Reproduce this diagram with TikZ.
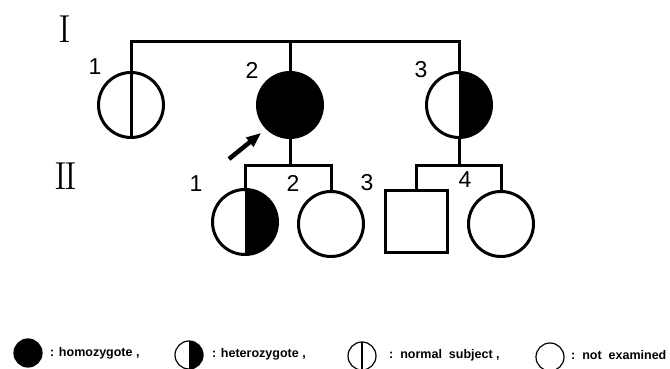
\documentclass[tikz,border=0pt]{standalone}
\usepackage{fontspec}
\usepackage{tikz}
\usetikzlibrary{arrows.meta, positioning, calc}
\newfontfamily\sansfont{Liberation Sans}
\newcommand\numfont{\sansfont\fontsize{23}{23}\selectfont}
\newcommand\keyfont{\sansfont\bfseries\fontsize{12.5}{12.5}\selectfont}
\newcommand\genfont{\fontsize{39}{39}\selectfont}
\tikzset{
  person/.style={circle, draw=black, line width=3pt, minimum size=65pt, inner sep=0pt},
  male/.style={rectangle, draw=black, line width=3pt, minimum size=62pt, inner sep=0pt},
  homo/.style={person, fill=black},
  halffill/.style={path picture={\fill[black] (path picture bounding box.north) rectangle (path picture bounding box.south east);}},
  midline/.style={path picture={\draw[line width=1.2pt] (path picture bounding box.north) -- (path picture bounding box.south);}},
  link/.style={line width=3pt},
  proband/.style={-{Triangle[length=15pt,width=11pt]}, line width=4.5pt},
  num/.style={font=\numfont, inner sep=0pt},
  gen/.style={font=\genfont, inner sep=0pt},
  key/.style={circle, draw=black, line width=1.2pt, minimum size=28pt, inner sep=0pt},
  keytext/.style={font=\keyfont, inner sep=0pt, anchor=base west},
}

\begin{document}
\begin{tikzpicture}[x=1pt, y=1pt]
\useasboundingbox (0,0) rectangle (670,369);
% generations
\node[gen] (g1) at (65,340) {I};
\node[gen] (g2) at (66,193) {I\kern-3.5pt I};
% generation I
\node[person] (i1) at (131,264) {};
\node[homo] (i2) at (290,264) {};
\node[person, halffill] (i3) at (459,264) {};
\coordinate (top) at (0,327);
\coordinate (sib) at (0,203);
\draw[link] (i1.south) -- (i1.north |- top) -| (i3.north);
\draw[link] (i2.north) -- (i2.north |- top);
\node[num] (n11) at (95,302) {1};
\node[num] (n12) at (252,299) {2};
\node[num] (n13) at (421,299) {3};
% generation II
\node[person, halffill] (ii1) at (245,147) {};
\node[person] (ii2) at (331,145) {};
\node[male] (ii3) at (416,147) {};
\node[person] (ii4) at (501,145) {};
\draw[link] (i2.south) -- (i2.south |- sib);
\draw[link] (ii1.north) |- (ii2.north |- sib) -- (ii2.north);
\draw[link] (i3.south) -- (i3.south |- sib);
\draw[link] (ii3.north) |- (ii4.north |- sib) -- (ii4.north);
\node[num] (n21) at (196,185) {1};
\node[num] (n22) at (293,186) {2};
\node[num] (n23) at (367,186) {3};
\node[num] (n24) at (465,189) {4};
% proband
\coordinate (pb) at (229,210);
\draw[proband, shorten >=6pt] (pb) -- (i2.south west);
% key
\node[key, fill=black] (k1) at (28,16) {};
\node[key, halffill] (k2) at (189,14) {};
\node[key, midline] (k3) at (362,13) {};
\node[key] (k4) at (550,12) {};
\node[keytext] (t1) at (50,12) {: homozygote ,};
\node[keytext] (t2) at (212,11) {: heterozygote ,};
\node[keytext] (t3) at (389,10) {:\ \ normal\ \ subject ,};
\node[keytext] (t4) at (571,9) {:\ \ not\ \ examined};
\end{tikzpicture}
\end{document}
